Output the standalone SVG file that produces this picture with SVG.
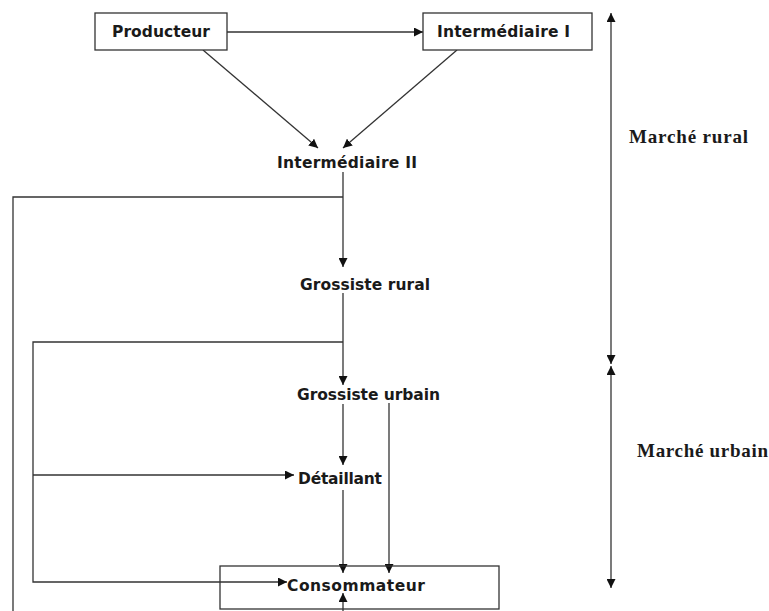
<svg xmlns="http://www.w3.org/2000/svg" width="769" height="611" viewBox="0 0 769 611">
<defs>
<style>
.box{fill:#fff;stroke:#333;stroke-width:1.3}
.lbl{font-family:"DejaVu Sans","Verdana",sans-serif;font-weight:bold;font-size:15.5px;fill:#1a1a1a}
.side{font-family:"Liberation Serif","Times New Roman",serif;font-weight:bold;font-size:19px;fill:#1a1a1a}
.ln{fill:none;stroke:#333;stroke-width:1.3}
.arr{marker-end:url(#ah)}
</style>
<marker id="ah" viewBox="0 0 10 10" refX="10" refY="5" markerWidth="9" markerHeight="9" markerUnits="userSpaceOnUse" orient="auto">
<path d="M0,0 L10,5 L0,10 z" fill="#111"/>
</marker>
<marker id="ahs" viewBox="0 0 10 10" refX="0" refY="5" markerWidth="9" markerHeight="9" markerUnits="userSpaceOnUse" orient="auto">
<path d="M10,0 L0,5 L10,10 z" fill="#111"/>
</marker>
</defs>
<rect width="769" height="611" fill="#fff"/>
<g id="connectors">
<line class="ln arr" x1="227" y1="32" x2="423" y2="32"/>
<line class="ln arr" x1="203" y1="50" x2="318" y2="148"/>
<line class="ln arr" x1="457" y1="50" x2="343" y2="148"/>
<line class="ln arr" x1="343" y1="172" x2="343" y2="267"/>
<path class="ln" d="M343,197 H13 V611"/>
<line class="ln arr" x1="343" y1="293" x2="343" y2="385"/>
<path class="ln arr" d="M343,342 H33 V582 H287"/>
<line class="ln arr" x1="33" y1="475" x2="294" y2="475"/>
<line class="ln arr" x1="343" y1="404" x2="343" y2="465"/>
<line class="ln arr" x1="389" y1="403" x2="389" y2="573"/>
<line class="ln arr" x1="343" y1="490" x2="343" y2="573"/>
<line class="ln arr" x1="343" y1="611" x2="343" y2="593"/>
<line class="ln arr" x1="611" y1="13" x2="611" y2="364" style="marker-start:url(#ahs)"/>
<line class="ln arr" x1="611" y1="366" x2="611" y2="588" style="marker-start:url(#ahs)"/>
</g>
<g id="producteur">
<rect class="box" x="95" y="13" width="132" height="37"/>
<text class="lbl" x="112" y="37" textLength="98">Producteur</text>
</g>
<g id="intermediaire1">
<rect class="box" x="423" y="13" width="169" height="37"/>
<text class="lbl" x="437" y="37" textLength="133">Intermédiaire I</text>
</g>
<g id="intermediaire2">
<text class="lbl" x="277" y="168" textLength="140">Intermédiaire II</text>
</g>
<g id="grossiste-rural">
<text class="lbl" x="300" y="290" textLength="130">Grossiste rural</text>
</g>
<g id="grossiste-urbain">
<text class="lbl" x="297" y="400" textLength="143">Grossiste urbain</text>
</g>
<g id="detaillant">
<text class="lbl" x="298" y="484" textLength="84">Détaillant</text>
</g>
<g id="consommateur">
<rect class="box" x="220" y="566" width="279" height="43" style="fill:none"/>
<text class="lbl" x="287" y="591" textLength="138">Consommateur</text>
</g>
<g id="marche-rural">
<text class="side" x="629" y="143" textLength="119">Marché rural</text>
</g>
<g id="marche-urbain">
<text class="side" x="637" y="457" textLength="131">Marché urbain</text>
</g>
</svg>
